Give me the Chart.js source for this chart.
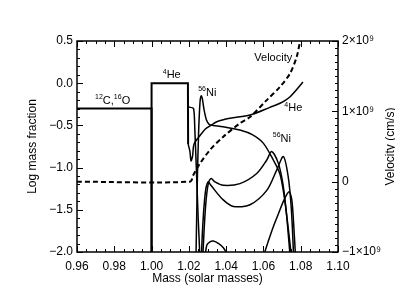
<!DOCTYPE html>
<html>
<head>
<meta charset="utf-8">
<script src="https://cdn.jsdelivr.net/npm/chart.js@4.4.7/dist/chart.umd.min.js"></script>
<style>
  html, body { margin: 0; padding: 0; background: #fff; }
  #wrap { width: 395px; height: 305px; }
</style>
</head>
<body>
<div id="wrap"><canvas id="chart" width="395" height="305"></canvas></div>
<script>
// axis ticks
const xTicks = [0.96, 0.98, 1.00, 1.02, 1.04, 1.06, 1.08, 1.10];
const yTicks = [-2.0, -1.5, -1.0, -0.5, 0.0, 0.5];
const vTicks = [-1e9, 0, 1e9, 2e9];

// 12C, 16O
const coMass = [0.96, 1.00, 1.00];
const coLog = [-0.3, -0.3, -2.5];

// 4He plateau and tail
const heBoxMass = [1.00, 1.00, 1.0195, 1.0196];
const heBoxLog = [-2.5, 0.0, 0.0, -0.72];
const heMass = [1.0196, 1.0205, 1.0212, 1.0220, 1.0228, 1.026, 1.029, 1.0322, 1.035, 1.042, 1.0528, 1.0635, 1.0689, 1.0743, 1.0812];
const heLog = [-0.72, -0.80, -0.92, -0.86, -0.72, -0.62, -0.54, -0.495, -0.456, -0.416, -0.377, -0.286, -0.238, -0.16, 0.014];

// 56Ni
const niMass = [1.0235, 1.0245, 1.0252, 1.0260, 1.0266, 1.0272, 1.0282, 1.0295, 1.031, 1.0330, 1.0383, 1.0474, 1.0540, 1.0599, 1.0653, 1.0689, 1.0712, 1.0732, 1.0750];
const niLog = [-2.5, -1.2, -0.6, -0.22, -0.15, -0.18, -0.32, -0.44, -0.49, -0.50, -0.515, -0.555, -0.61, -0.71, -0.91, -1.08, -1.35, -1.7, -2.05];

// other ash species
const s1Mass = [1.0195, 1.0225, 1.0232, 1.0240, 1.0250, 1.0258, 1.0262];
const s1Log = [-0.28, -0.30, -0.55, -1.0, -1.6, -2.0, -2.5];
const s2Mass = [1.0268, 1.0276, 1.0290, 1.0305, 1.0320, 1.0340, 1.0385, 1.0474, 1.0564, 1.0618, 1.0644, 1.0680, 1.0705, 1.0725, 1.0743];
const s2Log = [-2.5, -2.0, -1.45, -1.18, -1.13, -1.17, -1.21, -1.19, -1.07, -0.91, -0.81, -0.95, -1.2, -1.58, -2.05];
const s3Mass = [1.0262, 1.0272, 1.0288, 1.0303, 1.0318, 1.0383, 1.0439, 1.0528, 1.0618, 1.0671, 1.0707, 1.0733, 1.0750, 1.0762];
const s3Log = [-2.5, -1.8, -1.3, -1.17, -1.21, -1.38, -1.46, -1.44, -1.27, -1.03, -0.87, -1.11, -1.5, -2.05];
const s4Mass = [1.0600, 1.0625, 1.0653, 1.0680, 1.0707, 1.0737, 1.0752, 1.0763, 1.0772];
const s4Log = [-2.05, -1.88, -1.70, -1.55, -1.40, -1.285, -1.38, -1.7, -2.05];
const s5Mass = [1.0285, 1.0296, 1.0313, 1.0331, 1.0360, 1.0385, 1.0405];
const s5Log = [-2.1, -1.92, -1.88, -1.87, -1.90, -1.95, -2.02];

// velocity (cm/s), right axis
const velMass = [0.96, 1.0206, 1.0224, 1.026, 1.0313, 1.0385, 1.0474, 1.0528, 1.0618, 1.0689, 1.0743, 1.0779, 1.0796, 1.0806];
const vel = [0, 0, 0.095e9, 0.26e9, 0.45e9, 0.64e9, 0.83e9, 0.92e9, 1.16e9, 1.35e9, 1.54e9, 1.78e9, 1.99e9, 2.1e9];

// curve labels, ^ marks a superscript mass number
const noteText = ['^12C,^16O', '^4He', '^56Ni', 'Velocity', '^4He', '^56Ni'];
const noteMass = [0.9697, 1.0060, 1.0250, 1.0551, 1.0712, 1.0650];
const noteLog = [-0.246, 0.058, -0.147, 0.267, -0.335, -0.693];

const FONT = '"Liberation Sans", Arial, Helvetica, sans-serif';

function pts(xs, ys) {
  return xs.map((x, i) => ({ x, y: ys[i] }));
}

function line(xs, ys, extra) {
  return Object.assign({
    data: pts(xs, ys),
    borderColor: '#000',
    borderWidth: 1.5,
    pointRadius: 0,
    tension: 0.3,
    fill: false,
    showLine: true,
    yAxisID: 'y',
  }, extra || {});
}

function minus(s) {
  return s.replace('-', '\u2212');
}

// inward ticks, the box round the plot, titles and curve labels
const frame = {
  id: 'frame',
  afterDraw(chart) {
    const { ctx, chartArea: a, scales } = chart;
    const sx = scales.x, sy = scales.y, sv = scales.y2;
    ctx.save();
    ctx.strokeStyle = '#000';
    ctx.lineWidth = 1;
    ctx.beginPath();
    for (let i = 0; i <= 28; i++) {
      const v = 0.96 + i * 0.005;
      const px = Math.round(sx.getPixelForValue(v)) + 0.5;
      const len = i % 4 === 0 ? 6 : 3;
      ctx.moveTo(px, a.bottom); ctx.lineTo(px, a.bottom - len);
      ctx.moveTo(px, a.top); ctx.lineTo(px, a.top + len);
    }
    for (let i = 0; i <= 25; i++) {
      const v = -2 + i * 0.1;
      const py = Math.round(sy.getPixelForValue(v)) + 0.5;
      const len = i % 5 === 0 ? 6 : 3;
      ctx.moveTo(a.left, py); ctx.lineTo(a.left + len, py);
    }
    for (let i = 0; i <= 30; i++) {
      const v = -1e9 + i * 1e8;
      const py = Math.round(sv.getPixelForValue(v)) + 0.5;
      const len = i % 10 === 0 ? 6 : 3;
      ctx.moveTo(a.right, py); ctx.lineTo(a.right - len, py);
    }
    ctx.stroke();
    ctx.lineWidth = 1.5;
    ctx.strokeRect(a.left, a.top, a.right - a.left, a.bottom - a.top);

    // axis titles
    ctx.fillStyle = '#000';
    ctx.font = '12px ' + FONT;
    ctx.textAlign = 'center';
    ctx.textBaseline = 'middle';
    const midY = (a.top + a.bottom) / 2;
    ctx.fillText('Mass (solar masses)', (a.left + a.right) / 2, 279);
    ctx.save();
    ctx.translate(33, midY);
    ctx.rotate(-Math.PI / 2);
    ctx.fillText('Log mass fraction', 0, 0);
    ctx.restore();
    ctx.save();
    ctx.translate(391, midY);
    ctx.rotate(-Math.PI / 2);
    ctx.fillText('Velocity (cm/s)', 0, 0);
    ctx.restore();

    // curve labels
    ctx.textAlign = 'left';
    ctx.textBaseline = 'alphabetic';
    noteText.forEach((t, i) => {
      let x = sx.getPixelForValue(noteMass[i]);
      const y = sy.getPixelForValue(noteLog[i]);
      const parts = t.split(/(\^\d+)/).filter(p => p);
      parts.forEach(p => {
        if (p[0] === '^') {
          ctx.font = '7px ' + FONT;
          ctx.fillText(p.slice(1), x, y - 4.5);
          x += ctx.measureText(p.slice(1)).width;
        } else {
          ctx.font = '11px ' + FONT;
          ctx.fillText(p, x, y);
          x += ctx.measureText(p).width;
        }
      });
    });
    ctx.restore();
  }
};

const tickFont = { family: FONT, size: 12 };

new Chart(document.getElementById('chart'), {
  type: 'scatter',
  data: {
    datasets: [
      line(coMass, coLog, { borderWidth: 2, tension: 0 }),
      line(heBoxMass, heBoxLog, { borderWidth: 2, tension: 0 }),
      line(heMass, heLog),
      line(niMass, niLog),
      line(s1Mass, s1Log, { tension: 0.2 }),
      line(s2Mass, s2Log),
      line(s3Mass, s3Log),
      line(s4Mass, s4Log),
      line(s5Mass, s5Log),
      line(velMass, vel, { yAxisID: 'y2', borderWidth: 2, borderDash: [5, 3] }),
    ],
  },
  options: {
    responsive: false,
    animation: false,
    devicePixelRatio: 1,
    layout: { padding: { top: 41, left: 0, right: 0, bottom: 0 } },
    plugins: { legend: { display: false }, tooltip: { enabled: false } },
    scales: {
      x: {
        type: 'linear',
        min: 0.96,
        max: 1.10,
        grid: { display: false, drawTicks: false },
        border: { display: false },
        afterBuildTicks: s => { s.ticks = xTicks.map(v => ({ value: v })); },
        afterFit: s => { s.height = 53; },
        ticks: {
          color: '#000',
          padding: 7,
          maxRotation: 0,
          font: tickFont,
          callback: v => v.toFixed(2),
        },
      },
      y: {
        type: 'linear',
        position: 'left',
        min: -2.0,
        max: 0.5,
        grid: { display: false, drawTicks: false },
        border: { display: false },
        afterBuildTicks: s => { s.ticks = yTicks.map(v => ({ value: v })); },
        afterFit: s => { s.width = 77; },
        ticks: {
          color: '#000',
          padding: 4,
          font: tickFont,
          callback: v => minus(v.toFixed(1)),
        },
      },
      y2: {
        type: 'linear',
        position: 'right',
        min: -1e9,
        max: 2e9,
        grid: { display: false, drawTicks: false },
        border: { display: false },
        afterBuildTicks: s => { s.ticks = vTicks.map(v => ({ value: v })); },
        afterFit: s => { s.width = 57; },
        ticks: {
          color: '#000',
          padding: 4,
          font: tickFont,
          callback: v => v === 0 ? '0' : minus((v / 1e9) + '\u00d710\u2079'),
        },
      },
    },
  },
  plugins: [frame],
});
</script>
</body>
</html>
